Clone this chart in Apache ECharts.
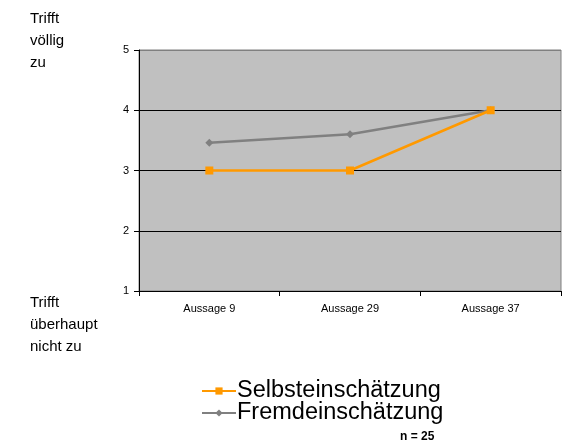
<!DOCTYPE html>
<html>
<head>
<meta charset="utf-8">
<script src="https://cdn.jsdelivr.net/npm/echarts@6/dist/echarts.min.js"></script>
<style>
  html, body { margin: 0; padding: 0; background: #fff; }
  #echarts { width: 569px; height: 448px; }
</style>
</head>
<body>
<div id="echarts"></div>
<script>
const categories = ['Aussage 9', 'Aussage 29', 'Aussage 37'];
const selbst = [3, 3, 4];
const fremd = [3.46, 3.6, 4];
const seriesNames = ['Selbsteinschätzung', 'Fremdeinschätzung'];
const topLabel = 'Trifft\nvöllig\nzu';
const bottomLabel = 'Trifft\nüberhaupt\nnicht zu';
const nLabel = 'n = 25';

let myChart = echarts.init(document.getElementById('echarts'));
const font = 'Liberation Sans, Arial, sans-serif';
let option = {
  animation: false,
  textStyle: { fontFamily: font },
  grid: {
    left: 139,
    right: 8,
    top: 50,
    bottom: 157,
    show: true,
    backgroundColor: '#c0c0c0',
    borderColor: '#808080',
    borderWidth: 1,
  },
  legend: {
    orient: 'vertical',
    left: 196,
    top: 374,
    itemWidth: 34,
    itemHeight: 9,
    itemGap: -2,
    data: seriesNames,
    textStyle: { fontSize: 23.5, lineHeight: 21, color: '#000', fontFamily: font, padding: [0, 0, 0, -4] },
  },
  xAxis: {
    type: 'category',
    data: categories,
    boundaryGap: true,
    axisLine: { lineStyle: { color: '#000', width: 1 } },
    axisTick: { show: true, length: 5, lineStyle: { color: '#000' } },
    axisLabel: { color: '#000', fontSize: 11, margin: 12 },
  },
  yAxis: {
    type: 'value',
    min: 1,
    max: 5,
    interval: 1,
    axisLine: { show: true, lineStyle: { color: '#000', width: 1 } },
    axisTick: { show: true, length: 5, lineStyle: { color: '#000' } },
    axisLabel: { color: '#000', fontSize: 11, margin: 10 },
    splitLine: { lineStyle: { color: ['#000', '#000', '#000', '#000', '#808080'], width: 1 } },
  },
  graphic: [
    {
      type: 'text',
      left: 30,
      top: 8,
      style: { text: topLabel, fontSize: 15, lineHeight: 22, fill: '#000', fontFamily: font },
    },
    {
      type: 'text',
      left: 30,
      top: 292,
      style: { text: bottomLabel, fontSize: 15, lineHeight: 22, fill: '#000', fontFamily: font },
    },
    {
      type: 'text',
      left: 400,
      top: 431,
      style: { text: nLabel, fontSize: 12, fontWeight: 'bold', fill: '#000', fontFamily: font },
    },
  ],
  series: [
    {
      name: seriesNames[0],
      type: 'line',
      data: selbst,
      z: 3,
      symbol: 'rect',
      symbolSize: 8,
      lineStyle: { color: '#ff9900', width: 2.5 },
      itemStyle: { color: '#ff9900' },
    },
    {
      name: seriesNames[1],
      type: 'line',
      data: fremd,
      z: 2,
      symbol: 'diamond',
      symbolSize: 8,
      lineStyle: { color: '#808080', width: 2.5 },
      itemStyle: { color: '#808080' },
    },
  ],
};
myChart.setOption(option);
</script>
</body>
</html>
